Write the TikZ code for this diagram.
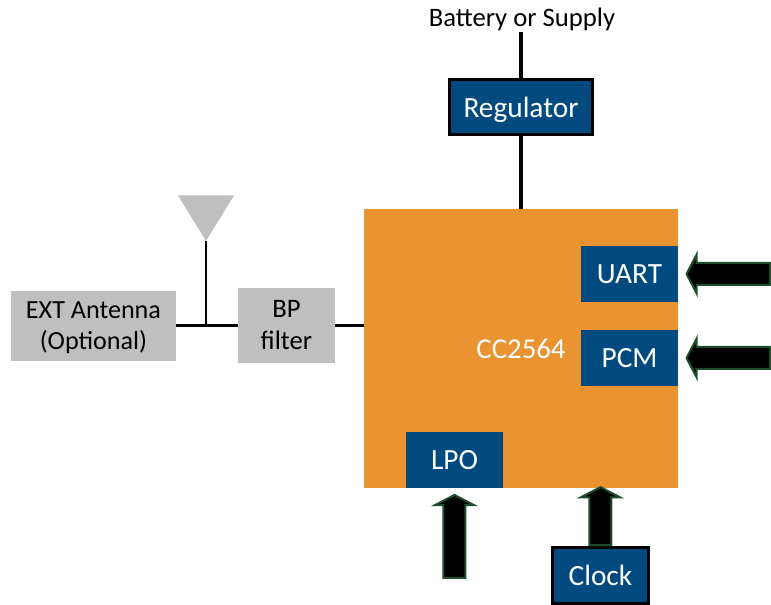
\documentclass[tikz,border=0pt]{standalone}
\usepackage{fontspec}
\setmainfont{Carlito}
\usepackage{tikz}
\usetikzlibrary{shapes}
\definecolor{chiporange}{HTML}{E99331}
\definecolor{blockblue}{HTML}{004A80}
\definecolor{blockgray}{HTML}{BFBFBF}
\definecolor{arrowgreen}{HTML}{1E4D2B}
\tikzstyle{line} = [draw, line width=1.9pt]
\tikzstyle{chipbox} = [rectangle, fill=chiporange, text=white, minimum width=235.5pt, minimum height=209.25pt, inner sep=0pt, font=\fontsize{21.6}{24}\selectfont]
\tikzstyle{port} = [rectangle, fill=blockblue, text=white, minimum width=72.75pt, minimum height=42pt, inner sep=0pt, text height=15pt, text depth=0pt, font=\fontsize{22}{24}\selectfont]
\tikzstyle{framed} = [port, draw=black, line width=2.25pt]
\tikzstyle{filter} = [rectangle, fill=blockgray, align=center, inner sep=0pt]
\tikzstyle{bigarrow} = [single arrow, draw=arrowgreen, fill=black, line width=1.5pt, inner sep=7.5pt, single arrow head extend=6.5pt, single arrow tip angle=125]

\begin{document}
\begin{tikzpicture}[x=0.75pt, y=-0.75pt, every node/.style={font=\fontsize{20}{24}\selectfont}]
	
	\useasboundingbox (0,0) rectangle (771,604);
	
	\node [chipbox] (chip) at (521,348.5) {CC2564};
	
	\node [framed, above of=chip, node distance=181.1pt, minimum width=107.25pt, minimum height=41.25pt] (regulator) {Regulator};
	\node [above of=regulator, node distance=66pt, xshift=0.75pt] (battery) {Battery or Supply};
	\coordinate [above of=regulator, node distance=56.25pt] (supply);
	
	\path [line, line width=2.4pt] (supply) to (regulator);
	\path [line, line width=2.4pt] (regulator) to (chip);
	
	\node [port, right of=chip, node distance=81.4pt, yshift=55.9pt] (uart) {UART};
	\node [port, below of=uart, node distance=63pt] (pcm) {PCM};
	\node [port, below of=chip, node distance=83.6pt, xshift=-49.9pt] (lpo) {LPO};
	
	\node [framed, below of=chip, node distance=170.25pt, xshift=59.6pt, minimum width=72pt] (clock) {Clock};
	
	\node [bigarrow, shape border rotate=180, minimum height=62.75pt, right of=uart, node distance=76.25pt] (uartin) {};
	\node [bigarrow, shape border rotate=180, minimum height=62.75pt, right of=pcm, node distance=76.25pt] (pcmin) {};
	\node [bigarrow, shape border rotate=90, minimum height=62.25pt, below of=lpo, node distance=59.5pt] (lpoin) {};
	\node [bigarrow, shape border rotate=90, minimum height=43.5pt, above of=clock, node distance=42.4pt] (clockin) {};
	
	\node [filter, left of=chip, node distance=175.9pt, yshift=17.25pt, minimum width=72.75pt, minimum height=56.25pt] (bp) {BP\\filter};
	\node [filter, left of=bp, node distance=144.75pt, minimum width=123.75pt, minimum height=52.5pt, text depth=0pt, font=\fontsize{19.6}{23}\selectfont] (ext) {EXT Antenna\\(Optional)};
	
	\coordinate [right of=ext, node distance=84.4pt] (junction);
	\coordinate [above of=junction, node distance=63.4pt] (antenna);
	\fill [blockgray] (antenna) -- ++(-28,-45.5) -- ++(56,0) -- cycle;
	
	\path [line] (ext) to (bp);
	\path [line] (antenna) to (junction);
	\path [line] (bp) to (bp -| chip.west);
	
\end{tikzpicture}
\end{document}
